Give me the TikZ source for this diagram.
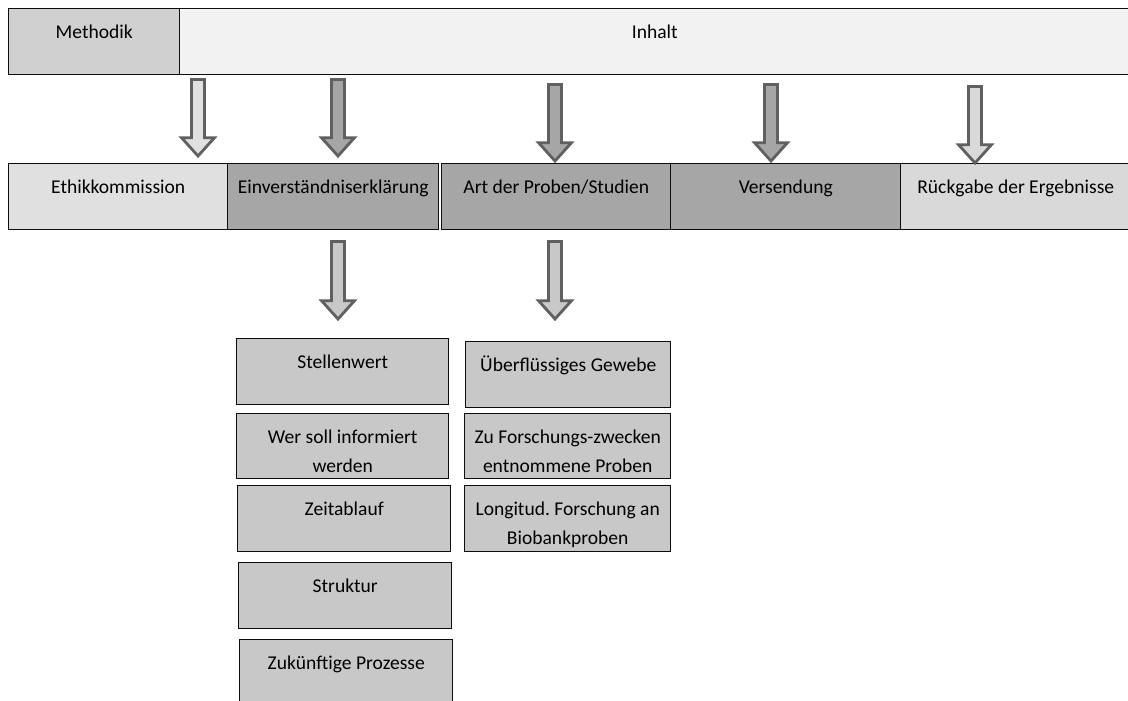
\documentclass[tikz,border=0pt]{standalone}
\usepackage{fontspec}
\setmainfont{Carlito}
\usepackage{tikz}
\usetikzlibrary{
    calc
}
\frenchspacing
\tikzset{
  fatarr/.style = {draw=EdgeGray, line width=2pt, line join=miter,
                   to path={let \p1=(\tikztostart), \p2=(\tikztotarget) in
                     (\x1-4.6pt,\y1) -- (\x1-4.6pt,\y2+13pt) -- (\x1-11.7pt,\y2+13pt)
                     -- (\x1,\y2) -- (\x1+11.7pt,\y2+13pt) -- (\x1+4.6pt,\y2+13pt)
                     -- (\x1+4.6pt,\y1) -- cycle}}
}
\definecolor{MethGray}{RGB}{208,208,208}
\definecolor{PaleGray}{RGB}{242,242,242}
\definecolor{LightGray}{RGB}{224,224,224}
\definecolor{MidGray}{RGB}{166,166,166}
\definecolor{SoftGray}{RGB}{217,217,217}
\definecolor{BoxGray}{RGB}{200,200,200}
\definecolor{EdgeGray}{RGB}{96,96,96}

\begin{document}
\begin{tikzpicture}[
    x=0.025cm, y=-0.025cm,
    cell/.style={
      draw=black!95, line width=1pt, anchor=north west,
      inner sep=0pt, align=flush center, text height=0.75cm, text depth=0.9cm,
      font=\fontsize{13.9}{20.6}\selectfont
    }
  ]
    \useasboundingbox (0,0) rectangle (1128,700);
    \clip (0,0) rectangle (1128,700);

    \node[cell, fill=MethGray, text width=4.275cm] (meth) at (8,8) {Methodik};
    \node[cell, fill=PaleGray, text width=23.75cm] (inh) at (179,8) {Inhalt};

    \node[cell, fill=LightGray, text width=5.475cm] (ethik) at (8,163) {Ethikkommission};
    \node[cell, fill=MidGray, text width=5.275cm] (einv) at (227,163) {Einverständniserklärung};
    \node[cell, fill=MidGray, text width=5.725cm] (art) at (441,163) {Art der Proben/Studien};
    \node[cell, fill=MidGray, text width=5.75cm] (vers) at (670,163) {Versendung};
    \node[cell, fill=SoftGray, text width=5.75cm] (rueck) at (900,163) {Rückgabe der Ergebnisse};

    \node[cell, fill=BoxGray, text width=5.3cm] (stell) at (236,338) {Stellenwert};
    \node[cell, fill=BoxGray, text width=5.3cm, text depth=0.875cm] (wer) at (236,413) {Wer soll informiert\\werden};
    \node[cell, fill=BoxGray, text width=5.325cm] (zeit) at (237,485) {Zeitablauf};
    \node[cell, fill=BoxGray, text width=5.325cm] (struk) at (238,562) {Struktur};
    \node[cell, fill=BoxGray, text width=5.325cm] (zuk) at (239,639) {Zukünftige Prozesse};

    \node[cell, fill=BoxGray, text width=5.125cm] (ueber) at (465,341) {Überflüssiges Gewebe};
    \node[cell, fill=BoxGray, text width=5.15cm, text depth=0.875cm] (zuf) at (464,413) {Zu Forschungs-zwecken\\entnommene Proben};
    \node[cell, fill=BoxGray, text width=5.15cm] (longi) at (464,485) {Longitud. Forschung an\\Biobankproben};

    \coordinate (k1) at (198,0);
    \coordinate (k2) at (338,0);
    \coordinate (k3) at (555,0);
    \coordinate (k4) at (771,0);
    \coordinate (k5) at (975,0);

    \draw[fatarr, fill=LightGray] ($(k1 |- meth.south)+(0,4)$) to ($(k1 |- ethik.north)+(0,-7)$);
    \draw[fatarr, fill=MidGray] ($(k2 |- inh.south)+(0,4)$) to ($(k2 |- einv.north)+(0,-7)$);
    \draw[fatarr, fill=MidGray] ($(k3 |- inh.south)+(0,9)$) to ($(k3 |- art.north)+(0,-2)$);
    \draw[fatarr, fill=MidGray] ($(k4 |- inh.south)+(0,9)$) to ($(k4 |- vers.north)+(0,-2)$);
    \draw[fatarr, fill=SoftGray] ($(k5 |- inh.south)+(0,11)$) to ($(k5 |- rueck.north)+(0,0)$);

    \draw[fatarr, fill=BoxGray] ($(k2 |- einv.south)+(0,11)$) to ($(k2 |- stell.north)+(0,-19)$);
    \draw[fatarr, fill=BoxGray] ($(k3 |- art.south)+(0,11)$) to ($(k3 |- ueber.north)+(0,-22)$);
  \end{tikzpicture}
\end{document}
